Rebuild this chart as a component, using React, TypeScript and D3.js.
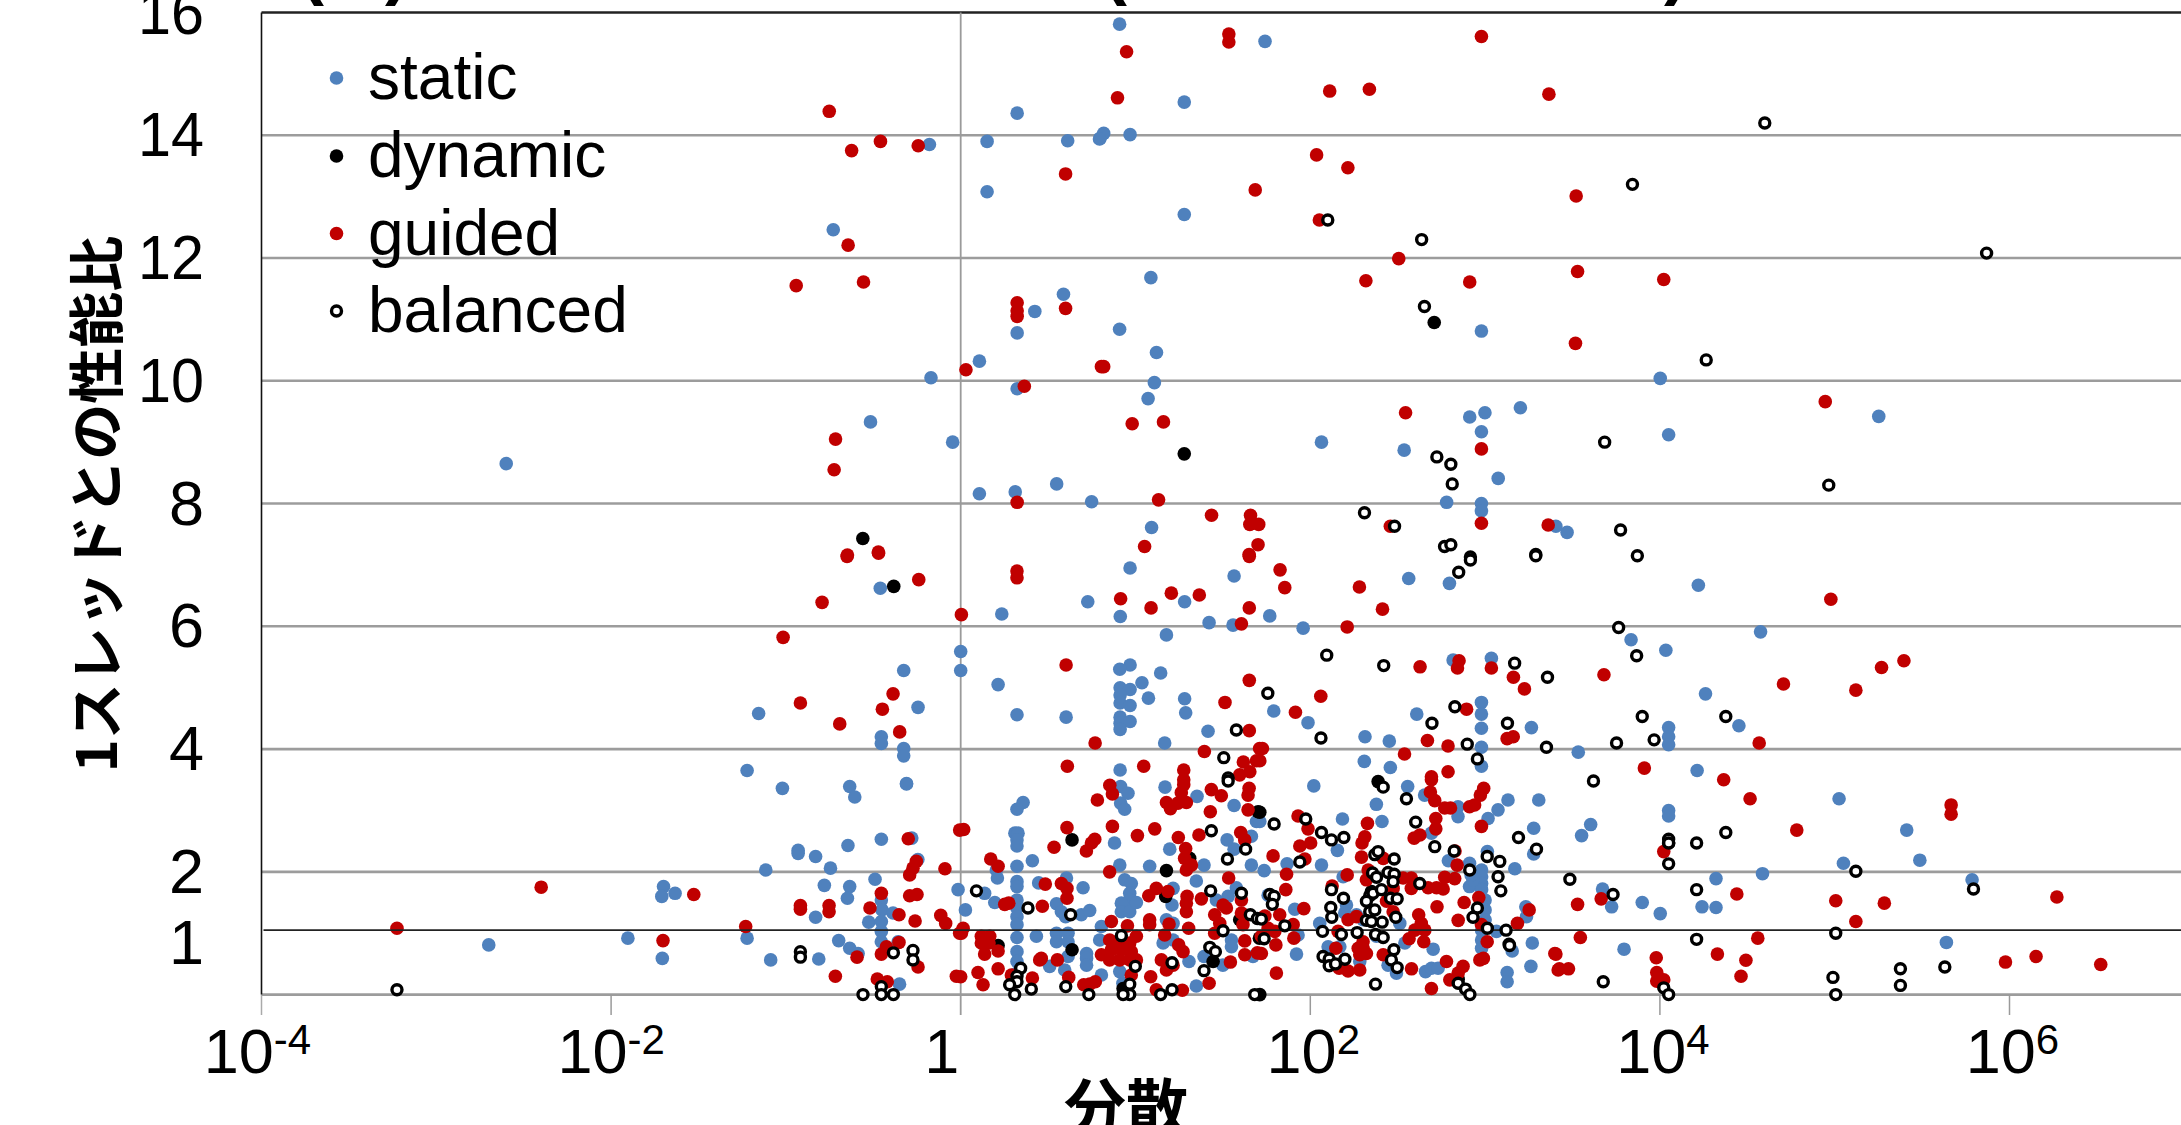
import React from "react";
import * as d3 from "d3";

// Every point is [log10(variance), ratio to one thread]
type P = [number, number];

const staticData: P[] = [
[-2.6,8.65],[-2.7,.81],[-1.904,.92],[.323,14.36],[-.179,13.85],[.151,13.9],[.612,13.91],[.797,13.95],[.151,13.08],[-.729,12.46],[.588,11.41],[.424,11.13],[.323,10.78],[.107,10.32],[-.17,10.05],[.323,9.87],[-.516,9.33],[-.046,9],[.107,8.16],[.312,8.19],[.549,8.32],[.749,8.03],
[.909,15.81],[1.741,15.53],[1.279,14.54],[.818,14.03],[.794,13.94],[.969,14.01],[1.279,12.71],[1.088,11.68],[.909,10.84],[1.12,10.46],[1.108,9.97],[1.072,9.71],[2.979,10.81],[4.002,10.04],[5.252,9.42],[4.05,9.12],[2.064,9],[2.537,8.87],[2.999,9.48],[2.912,9.41],[3.202,9.56],[2.979,9.17],[3.075,8.41],[2.78,8.02],[2.979,8],[2.979,7.88],[1.092,7.61],[3.405,7.63],[3.469,7.53],
[-.46,6.62],[-.326,5.28],[0,5.59],[0,5.28],[-1.156,4.58],[-.244,4.68],[-.454,4.2],[-.454,4.09],[-.326,4.01],[-.326,3.89],[-1.222,3.65],[-.31,3.44],
[.969,6.95],[1.564,6.82],[.235,6.2],[.727,6.4],[.913,6.16],[1.281,6.4],[1.421,6.06],[1.558,6.02],[1.177,5.86],[.969,5.37],[.91,5.3],[1.144,5.24],[1.037,5.08],[.214,5.05],[.912,5],[.969,4.97],[.912,4.88],[.912,4.75],[.969,4.71],[1.074,4.83],[1.281,4.82],[1.287,4.59],[.322,4.56],[.603,4.52],[.912,4.52],[.912,4.42],[.969,4.45],[.912,4.32],[1.415,4.29],[1.167,4.1],[.912,3.66],
[2.563,6.78],[2.796,6.7],[1.768,6.17],[1.959,5.97],[2.817,5.45],[3.036,5.48],[1.791,4.62],[1.987,4.43],[2.609,4.57],[2.979,4.76],[2.979,4.57],[2.979,4.34],[3.265,4.35],[2.313,4.2],[2.452,4.13],[2.309,3.8],[2.458,3.7],[2.979,4.03],[2.979,3.72],
[4.22,6.67],[4.576,5.91],[3.835,5.78],[4.034,5.61],[4.261,4.9],[4.452,4.38],[4.05,4.35],[4.05,4.2],[4.05,4.07],[3.533,3.95],[4.213,3.65],[5.025,3.19],[4.05,3],[4.05,2.91],[3.604,2.77],[3.552,2.59],[5.412,2.68],[5.487,2.19],[5.05,2.14],[4.587,1.97],[4.321,1.89],[5.786,1.87],[4.241,1.43],[4.321,1.42],[4.002,1.32],[3.899,1.5],[3.724,1.43],[3.672,1.72],[5.639,.85],[3.795,.74],
[-1.02,3.36],[-.635,3.39],[-.606,3.22],[-.31,3.43],[-.454,2.53],[-.28,2.55],[-.645,2.43],[-.93,2.35],[-.93,2.3],[-.83,2.25],[-.245,2.2],[-.745,2.06],[-1.115,2.03],[-.49,1.88],[-1.7,1.76],[-1.71,1.6],[-1.634,1.65],[-.78,1.78],[-.635,1.76],[-.648,1.57],[-.454,1.54],[-.45,1.38],[-.387,1.33],[-.526,1.18],[-.454,1.19],[-.454,1.03],[-.83,1.26],[-1.222,.92],[-.698,.88],[-.454,.86],[-.635,.755],[-.587,.67],[-.358,.86],[-1.707,.59],[-1.087,.565],[-.812,.58],[-.35,.17],[-.015,1.71],
[.357,3.13],[.322,3.02],[.31,2.63],[.328,2.63],[.322,2.52],[.322,2.42],[.41,2.18],[.322,2.09],[.204,2.03],[.21,1.9],[.322,1.84],[.322,1.76],[.137,1.65],[.195,1.5],[.027,1.38],[.322,1.54],[.322,1.41],[.322,1.27],[.322,1.14],[.322,.93],[.322,.7],[.322,.54],[.322,.35],[.446,1.82],[.605,1.9],[.7,1.74],[.548,1.48],[.576,1.35],[.6,1.27],[.69,1.3],[.738,1.37],[.433,.95],[.548,1],[.548,.86],[.614,1],[.614,.86],[.614,.62],[.509,.46],[.595,.4],[.72,.67],[.72,.59],[.72,.48],[.805,1.11],[.795,.89],[.805,.32],[.88,2.47],[.91,2.11],[.938,1.87],[.976,1.81],[.967,1.65],[.967,1.54],[.919,1.49],[.919,1.35],[.967,1.35],[1.005,1.5],[.915,3.39],[.957,3.28],[.915,3.12],[.938,3.02],[1.169,3.38],[1.352,3.23],[1.564,3.08],[1.692,2.82],[1.663,2.58],[1.564,2.37],[1.524,2.52],[1.196,2.37],[1.392,2.11],[1.081,2.09],[1.348,1.85],[1.215,1.73],[1.209,1.46],[1.215,1.16],[1.158,.84],[1.215,.89],[1.392,.62],[1.306,.54],[1.348,.14],[.91,.375],[.928,.185],[1.672,.62],[1.663,2.11],[1.549,.89],[1.549,.78],[1.5,.48],[1.463,1.54],[1.53,1.6],[1.577,1.74],[1.177,1.22],
[2.02,3.4],[2.557,3.39],[2.654,3.25],[2.378,3.1],[2.845,3.06],[2.845,2.9],[3.131,3.17],[3.074,3.01],[3.017,2.87],[3.307,3.17],[3.278,2.71],[3.278,2.29],[2.184,2.86],[2.41,2.82],[2.155,2.35],[2.693,2.63],[1.867,2.13],[2.064,2.11],[1.736,2.02],[2.79,2.18],[2.911,2.14],[3.013,2.33],[3.17,2.05],[2.98,2.03],[2.98,1.92],[2.98,1.81],[2.911,1.76],[2.98,1.71],[2.93,1.87],[2.92,1.95],[3,1.54],[3,1.38],[3,1.22],[2.98,1.05],[2.98,.89],[2.98,.755],[3.065,1.03],[3.233,1.43],[3.237,1.27],[3.27,.84],[3.155,.71],[3.262,.46],[3.126,.36],[3.126,.21],[2.703,.74],[2.659,.375],[2.693,.43],[2.731,.43],[2.493,.35],[2.445,.48],[2.541,.84],[2.512,1.16],[2.188,1.92],[2.207,1.46],[2.197,1.33],[2.264,1.3],[2.302,1.22],[1.911,1.39],[1.759,1.62],[2.054,1.16],[1.93,.97],[1.921,.66],[2.102,.78],[2.169,.78],[2.283,.54],[2.378,.95],[1.711,2.82],
];

const dynamicData: P[] = [
[-.56,7.43],[-.383,6.65],[1.279,8.81],[2.709,10.95],[.637,2.52],[1.177,2.02],[1.173,1.6],[.637,.73],[.929,.1],[1.444,.54],[1.701,2.98],[1.31,2.22],[1.596,1.22],[.214,.8],[1.709,.92],[2.388,3.47],[1.711,2.97],[2.35,1.68],[2.846,.25],[1.711,0],[4.05,2.47],
];

const guidedData: P[] = [
[-3.225,1.08],[-2.4,1.75],[-.752,14.39],[-.459,13.9],[-.624,13.75],[-.243,13.83],[.6,13.37],[-.644,12.21],[-.556,11.61],[-.941,11.55],[.323,11.27],[.323,11.14],[.323,11.05],[.6,11.18],[.03,10.18],[.364,9.91],[.805,10.23],[-.716,9.05],[-.724,8.55],[.323,8.02],[-.648,7.16],[-.471,7.21],
[1.534,15.65],[1.534,15.52],[.949,15.36],[2.979,15.61],[.897,14.61],[2.111,14.72],[2.338,14.75],[3.365,14.67],[2.036,13.68],[2.215,13.47],[1.685,13.11],[3.521,13.01],[2.052,12.62],[2.506,11.99],[3.529,11.78],[2.318,11.63],[2.912,11.61],[4.022,11.65],[3.517,10.61],[.818,10.23],[4.946,9.66],[2.545,9.48],[.981,9.3],[1.16,9.33],[2.979,8.89],[1.132,8.06],[1.435,7.81],[1.658,7.81],[1.654,7.66],[1.705,7.66],[1.052,7.3],[1.701,7.33],[1.65,7.17],[2.458,7.63],[2.979,7.68],[3.361,7.65],
[-.65,7.14],[-.47,7.19],[-.24,6.76],[-.793,6.39],[-1.016,5.82],[.004,6.19],[-.387,4.9],[-.917,4.75],[-.448,4.65],[-.692,4.41],[-.349,4.28],
[.322,6.9],[.322,6.79],[.915,6.45],[1.089,6.3],[1.205,6.54],[1.365,6.51],[1.651,7.14],[1.651,6.3],[1.606,6.04],[1.651,5.12],[.603,5.37],[1.512,4.76],[1.651,4.3],[.769,4.1],[1.394,3.96],[.61,3.72],[1.047,3.72],[1.276,3.66],[1.276,3.5],[1.71,4.01],[1.617,3.79],[1.692,3.81],[1.596,3.58],[1.654,3.63],
[1.827,6.92],[1.854,6.63],[2.281,6.64],[2.413,6.28],[2.211,5.99],[2.628,5.34],[2.851,5.44],[2.842,5.32],[3.036,5.32],[3.162,5.17],[3.225,4.98],[2.06,4.86],[1.915,4.6],[2.894,4.65],[3.161,4.2],[3.126,4.17],[2.67,4.14],[2.788,4.05],[2.539,3.92],[1.726,4.01],[1.711,3.81],[2.788,3.63],[2.693,3.55],
[4.978,6.44],[5.268,5.33],[5.396,5.44],[4.707,5.06],[5.121,4.96],[3.68,5.21],[4.568,4.1],[3.911,3.69],[4.365,3.5],[4.516,3.19],[5.666,3.09],[5.666,2.94],[4.783,2.68],[4.022,2.33],[4.44,1.64],[3.529,1.47],[3.664,1.56],[5.006,1.53],[5.284,1.49],[6.271,1.59],[5.121,1.19],[3.545,.93],[4.56,.92],[3.405,.66],[3.425,.42],[3.477,.42],[3.979,.6],[4.329,.66],[4.492,.56],[3.982,.36],[4.022,.24],[3.982,.22],[4.464,.3],[5.977,.53],[6.152,.62],[6.522,.49],
[-.3,2.54],[-.006,2.68],[-.254,2.17],[-.273,2.06],[-.292,1.95],[-.09,2.05],[-1.527,1.63],[-.454,1.65],[-.292,1.61],[-.25,1.63],[-.917,1.45],[-.917,1.39],[-.753,1.45],[-.753,1.35],[-.519,1.41],[-.353,1.3],[-.261,1.2],[-.114,1.29],[-.086,1.16],[-.006,1],[-1.23,1.11],[-1.703,.88],[-.353,.85],[-.425,.78],[-.454,.66],[-.593,.61],[-.244,.45],[-.717,.3],[-.477,.255],[-.42,.21],[-.025,.3],
[.017,2.69],[.172,2.21],[.214,2.09],[.534,2.4],[.608,2.72],[.719,2.34],[.748,2.47],[.767,2.53],[.782,3.17],[.853,3.41],[.868,3.27],[.868,2.74],[1.011,2.59],[1.11,2.7],[1.177,3.13],[1.2,3.03],[1.276,3.42],[1.262,3.29],[1.243,3.12],[1.291,3.13],[1.428,2.98],[1.434,3.34],[1.491,3.24],[1.65,3.36],[1.644,3.25],[1.644,3.01],[1.602,2.64],[1.625,2.52],[1.363,2.6],[1.245,2.56],[1.287,2.38],[1.281,2.22],[1.32,2.11],[1.291,2.03],[.852,2],[.484,1.8],[.576,1.81],[.608,1.73],[.608,1.57],[.252,1.47],[.275,1.49],[.467,1.44],[.014,1.08],[.004,1],[.118,.95],[.166,.95],[.118,.84],[.162,.84],[.137,.66],[.214,.71],[.214,.42],[.099,.36],[.128,.16],[0,.29],[.452,.565],[.461,.59],[.553,.565],[.29,.32],[.41,.27],[.618,.28],[.704,.16],[.77,.21],[.738,.17],[.805,.65],[.862,1.19],[.954,1.12],[1.005,.95],[.852,.89],[.891,.84],[.929,.84],[.967,.84],[.862,.73],[.919,.73],[.976,.7],[.852,.565],[.91,.565],[.967,.565],[1.005,.565],[.976,.32],[1.087,.29],[1.076,1.61],[1.119,1.73],[1.186,1.68],[1.081,1.22],[1.081,1.14],[1.192,1.15],[1.167,.97],[1.247,.81],[1.272,.7],[1.148,.565],[1.177,.4],[1.215,.48],[1.119,.08],[1.268,.07],[1.421,.185],[1.295,1.6],[1.291,1.49],[1.291,1.35],[1.377,1.56],[1.304,1.08],[1.453,1.3],[1.482,1.16],[1.453,1],[1.501,1.46],[1.52,1.41],[1.533,1.9],[1.606,1.54],[1.606,1.33],[1.615,1.14],[1.625,.875],[1.625,.65],[1.543,.53],[1.697,.68],
[2.693,3.5],[2.687,3.3],[2.712,3.16],[2.769,3.04],[2.802,3.04],[2.911,3.06],[2.94,3.09],[2.973,3.25],[2.992,3.36],[2.979,2.74],[2.718,2.87],[2.718,2.7],[2.627,2.6],[2.594,2.55],[2.327,2.79],[2.312,2.57],[2.296,2.47],[2.293,2.24],[2.417,2.22],[2.331,2.03],[2.321,1.87],[1.93,2.91],[1.987,2.7],[1.94,2.42],[2.002,2.47],[1.969,2.21],[1.787,2.26],[1.864,1.96],[1.86,1.71],[2.211,1.95],[2.125,1.77],[1.963,1.4],[2.84,2.11],[2.828,2.34],[2.531,1.9],[2.578,1.9],[2.578,1.73],[2.769,1.91],[2.826,1.89],[2.674,1.74],[2.722,1.74],[2.76,1.72],[2.88,1.5],[2.725,1.43],[2.964,1.58],[2.474,1.73],[2.436,1.52],[2.474,1.35],[2.846,1.21],[2.62,1.3],[2.635,1.16],[2.598,1.05],[2.655,1.05],[2.565,.91],[2.649,.86],[3.252,1.38],[3.185,1.16],[2.979,1.14],[3.012,.86],[2.97,.565],[2.99,.59],[2.779,.54],[2.874,.46],[2.846,.35],[2.798,.24],[2.693,.1],[2.579,.42],[2.417,.65],[3.399,.67],[3.418,.4],[1.806,.35],[1.74,1.28],[1.825,1.3],[1.902,1.14],[1.906,.92],[1.759,1.08],[1.797,1.03],[1.72,.95],[1.803,.81],[1.72,.67],[2.216,1.22],[2.264,1.27],[2.159,1.03],[2.146,.755],[2.165,.43],[2.216,.385],[2.283,.4],[2.302,.86],[2.302,.755],[2.274,.755],[2.321,.67],[2.283,.65],
];

const balancedData: P[] = [
[-3.225,.08],[4.6,14.2],[3.843,13.2],[2.1,12.62],[2.637,12.3],[5.869,12.08],[2.653,11.21],[4.265,10.34],[3.684,9],[2.724,8.76],[2.804,8.64],[2.812,8.32],[4.966,8.3],[2.31,7.85],[2.482,7.63],[3.775,7.57],[2.768,7.3],[2.804,7.33],[2.916,7.13],[3.29,7.17],[3.871,7.15],
[1.577,4.31],[1.505,3.86],[1.53,3.53],[2.916,7.08],[2.849,6.88],[3.29,7.15],[2.094,5.53],[2.42,5.36],[3.169,5.4],[3.357,5.17],[1.757,4.91],[2.827,4.69],[2.696,4.42],[3.128,4.42],[2.061,4.18],[2.898,4.08],[3.351,4.03],[2.956,3.84],
[3.764,5.98],[3.867,5.52],[4.377,4.53],[3.899,4.53],[3.752,4.1],[3.967,4.15],[3.62,3.48],[4.377,2.64],[4.05,2.53],[4.05,2.47],[4.21,2.47],[4.05,2.13],[5.121,2.01],[4.21,1.71],[3.732,1.63],[5.794,1.72],[3.485,1.88],[5.006,1],[4.21,.9],[3.676,.21],[4.022,.11],[4.05,0],[4.99,.28],[5.006,0],[5.376,.42],[5.376,.15],[5.63,.45],
[-.917,.7],[-.917,.61],[-.385,.68],[-.273,.72],[-.273,.565],[-.454,.13],[-.454,0],[-.559,0],[-.385,0],
[.09,1.69],[.385,1.41],[.629,1.3],[.343,.43],[.322,.3],[.322,.21],[.28,.16],[.309,0],[.404,.09],[.601,.13],[.733,0],[.919,.96],[.999,.46],[.967,.17],[.967,0],[.929,0],[1.209,.52],[1.209,.08],[1.144,0],[1.434,2.67],[1.526,2.21],[1.63,2.37],[1.43,1.69],[1.606,1.65],[1.657,1.3],[1.697,1.24],[1.501,1.04],[1.425,.77],[1.457,.7],[1.392,.39],[1.682,0],[1.53,3.48],
[2.417,3.38],[2.55,3.19],[1.793,2.78],[1.974,2.86],[2.064,2.64],[2.121,2.52],[2.192,2.56],[2.603,2.81],[2.712,2.41],[2.823,2.34],[3.012,2.25],[3.084,2.17],[3.074,1.92],[3.09,1.69],[3.191,2.56],[3.294,2.37],[2.912,2.03],[1.94,2.16],[2.369,2.28],[2.388,2.33],[2.48,2.21],[2.356,1.98],[2.379,1.91],[2.445,1.99],[2.48,1.96],[2.474,1.84],[2.626,1.81],[2.121,1.71],[2.19,1.57],[2.34,1.61],[2.359,1.65],[2.321,1.52],[2.407,1.71],[2.459,1.57],[2.497,1.56],[1.768,1.63],[1.793,1.6],[1.783,1.47],[2.117,1.42],[2.123,1.26],[2.34,1.35],[2.369,1.38],[2.321,1.21],[2.35,1.19],[2.411,1.18],[2.489,1.26],[2.956,1.41],[2.931,1.26],[3.013,1.08],[3.12,1.05],[3.137,.82],[3.14,.8],[1.854,1.12],[1.72,1.23],[1.736,.91],[2.07,1.03],[2.178,.98],[2.268,1.01],[2.373,.98],[2.417,.93],[2.478,.73],[2.464,.565],[2.497,.44],[2.073,.62],[2.108,.58],[2.108,.47],[2.144,.5],[2.198,.575],[2.373,.17],[2.846,.185],[2.888,.09],[2.913,0],
];

const yTicks = [2, 4, 6, 8, 10, 12, 14, 16];
const yLabels = [1, 2, 4, 6, 8, 10, 12, 14, 16];
const xTickExponents = [-4, -2, 0, 2, 4, 6];
const legendNames = ["static", "dynamic", "guided", "balanced"];
const unitLine = 1.05;
const yTitle = "1スレッドとの性能比";
const xTitle = "分散";

const W = 2181;
const H = 1125;
const BLUE = "#4F81BD";
const RED = "#C00000";
const GRID = "#9C9C9C";
const SANS = "'Liberation Sans', Arial, sans-serif";
const CJK = "'Noto Sans CJK JP', sans-serif";

const x = d3.scaleLog().domain([1e-4, 1e7]).range([261.5, 2184.3]);
const y = d3.scaleLinear().domain([0, 16]).range([994.6, 12.5]);

function Filled({ data, fill }: { data: P[]; fill: string }) {
  return (
    <g fill={fill}>
      {data.map((d, i) => (
        <circle key={i} cx={x(10 ** d[0])} cy={y(d[1])} r={6.8} />
      ))}
    </g>
  );
}

function Ring({ cx, cy }: { cx: number; cy: number }) {
  return <circle cx={cx} cy={cy} r={5} fill="#fff" stroke="#000" strokeWidth={3.4} />;
}

export default function App() {
  const left = x(1e-4);
  const zero = y(0);
  const legendY = [78, 156, 233.5, 311];
  const legendColors = [BLUE, "#000", RED, "none"];
  return (
    <svg
      width={W}
      height={H}
      viewBox={`0 0 ${W} ${H}`}
      style={{ position: "absolute", left: 0, top: 0, background: "#fff" }}
    >
      {/* clipped title: only the bottoms of its brackets are visible */}
      <g fontFamily={SANS} fontWeight="bold" fontSize={72} fill="#000">
        <text x={300} y={-9}>(</text>
        <text x={385} y={-9}>)</text>
        <text x={1103} y={-9}>(</text>
        <text x={1664} y={-9}>)</text>
      </g>

      {/* gridlines */}
      {[0, ...yTicks.slice(0, -1)].map((t) => (
        <line key={t} x1={left} x2={W} y1={y(t)} y2={y(t)} stroke={GRID} strokeWidth={2.6} />
      ))}
      <line x1={left} x2={W} y1={y(16)} y2={y(16)} stroke="#222" strokeWidth={2.4} />

      {/* vertical axis and ticks */}
      {xTickExponents.map((e) => (
        <line
          key={e}
          x1={x(10 ** e)}
          x2={x(10 ** e)}
          y1={e === 0 ? y(16) : zero}
          y2={1015}
          stroke={e === -4 ? "#aaa" : "#9a9a9a"}
          strokeWidth={e === 0 ? 1.8 : 1.5}
        />
      ))}
      <line x1={left} x2={left} y1={y(16)} y2={zero} stroke="#111" strokeWidth={1.6} />

      <Filled data={staticData} fill={BLUE} />
      <Filled data={dynamicData} fill="#000" />
      <Filled data={guidedData} fill={RED} />

      <line x1={left + 2} x2={W} y1={y(unitLine)} y2={y(unitLine)} stroke="#222" strokeWidth={1.8} />

      <g>
        {balancedData.map((d, i) => (
          <Ring key={i} cx={x(10 ** d[0])} cy={y(d[1])} />
        ))}
      </g>

      {/* y tick labels */}
      <g fontFamily={SANS} fontSize={63} fill="#000" textAnchor="end">
        {yLabels.map((t) => (
          <text key={t} x={204} y={t === 1 ? 964 : y(t) + 21} textLength={t >= 10 ? 66 : undefined} lengthAdjust="spacingAndGlyphs">
            {t}
          </text>
        ))}
      </g>

      {/* x tick labels */}
      <g fontFamily={SANS} fill="#000">
        {xTickExponents.map((e) =>
          e === 0 ? (
            <text key={e} x={x(1) - 19} y={1073} fontSize={63} textAnchor="middle">
              1
            </text>
          ) : (
            <text key={e} x={x(10 ** e) + (e === -4 ? -4 : e > 0 ? 3 : 0)} y={1073} fontSize={63} textAnchor="middle">
              10
              <tspan fontSize={42} dy={-19}>
                {e}
              </tspan>
            </text>
          ),
        )}
      </g>

      {/* legend */}
      <g fontFamily={SANS} fontSize={64} fill="#000">
        {legendNames.map((name, i) => (
          <g key={name}>
            {i === 3 ? (
              <Ring cx={336.5} cy={legendY[i]} />
            ) : (
              <circle cx={336.5} cy={legendY[i]} r={6.8} fill={legendColors[i]} />
            )}
            <text x={368} y={legendY[i] + 21}>
              {name}
            </text>
          </g>
        ))}
      </g>

      {/* axis titles */}
      <text
        transform="translate(92,504) rotate(-90)"
        fontFamily={CJK}
        fontWeight="bold"
        fontSize={56}
        fill="#000"
        textAnchor="middle"
        dominantBaseline="central"
      >
        {yTitle}
      </text>
      <text x={1126} y={1131} fontFamily={CJK} fontWeight="bold" fontSize={62} fill="#000" textAnchor="middle">
        {xTitle}
      </text>
    </svg>
  );
}
